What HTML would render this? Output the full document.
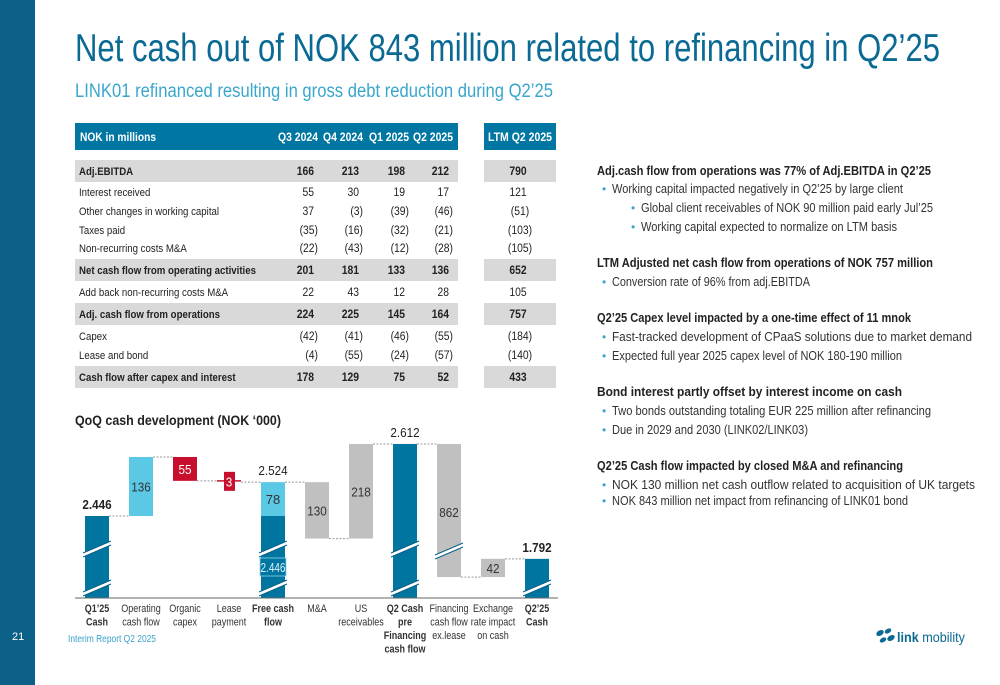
<!DOCTYPE html>
<html><head><meta charset="utf-8"><style>
html,body{margin:0;padding:0;background:#fff;}
svg{display:block;font-family:"Liberation Sans",Arial,sans-serif;}
</style></head><body>
<svg id="s" width="1000" height="685" viewBox="0 0 1000 685">
<rect x="0" y="0" width="35" height="685" fill="#0a6087"/>
<text x="12" y="640" font-size="11" fill="#fff">21</text>
<text x="75" y="61" font-size="39" fill="#0a6a93" textLength="865" lengthAdjust="spacingAndGlyphs">Net cash out of NOK 843 million related to refinancing in Q2’25</text>
<text x="75" y="97" font-size="19" fill="#3aa6cc" textLength="478" lengthAdjust="spacingAndGlyphs">LINK01 refinanced resulting in gross debt reduction during Q2’25</text>
<g id="table"></g>
<g id="notes"></g>
<text x="75" y="425" font-size="14" font-weight="bold" fill="#222" textLength="206" lengthAdjust="spacingAndGlyphs">QoQ cash development (NOK ‘000)</text>
<g id="chart"></g>
<text x="68" y="642" font-size="10.5" fill="#3a9fca" textLength="88" lengthAdjust="spacingAndGlyphs">Interim Report Q2 2025</text>
<g>
<ellipse cx="880" cy="633" rx="4" ry="2.6" fill="#0a6a93" transform="rotate(-30 880 633)"/>
<ellipse cx="888" cy="631" rx="3.5" ry="2.2" fill="#0a6a93" transform="rotate(-30 888 631)"/>
<ellipse cx="883" cy="640" rx="3.5" ry="2.2" fill="#0a6a93" transform="rotate(-30 883 640)"/>
<ellipse cx="891" cy="638" rx="4" ry="2.6" fill="#0a6a93" transform="rotate(-30 891 638)"/>
<text x="897" y="642" font-size="14" fill="#0a6a93" textLength="68" lengthAdjust="spacingAndGlyphs"><tspan font-weight="bold">link</tspan> mobility</text>
</g>
</svg>
<script>
const NS="http://www.w3.org/2000/svg";
function mk(parent,tag,attrs,txt){const e=document.createElementNS(NS,tag);for(const k in attrs)e.setAttribute(k,attrs[k]);if(txt!==undefined)e.textContent=txt;parent.appendChild(e);return e;}
function sx(x,s){return `translate(${x},0) scale(${s},1) translate(${-x},0)`;}

/* ---------- table ---------- */
const colHeaders=["Q3 2024","Q4 2024","Q1 2025","Q2 2025"];
const rowLabels=["Adj.EBITDA","Interest received","Other changes in working capital","Taxes paid","Non-recurring costs M&A","Net cash flow from operating activities","Add back non-recurring costs M&A","Adj. cash flow from operations","Capex","Lease and bond","Cash flow after capex and interest"];
const rowValues=[["166","213","198","212"],["55","30","19","17"],["37","(3)","(39)","(46)"],["(35)","(16)","(32)","(21)"],["(22)","(43)","(12)","(28)"],["201","181","133","136"],["22","43","12","28"],["224","225","145","164"],["(42)","(41)","(46)","(55)"],["(4)","(55)","(24)","(57)"],["178","129","75","52"]];
const ltmValues=["790","121","(51)","(103)","(105)","652","105","757","(184)","(140)","433"];
const boldRows=[true,false,false,false,false,true,false,true,false,false,true];
const rowY=[171,192,211,230,248,270,292,314,336,355,377];
const colRight=[318,363,409,453];
const T=document.getElementById('table');
let h=mk(T,'rect',{x:75,y:123,width:383,height:27,fill:'#0077a3'});


mk(T,'rect',{x:484,y:123,width:72,height:27,fill:'#0077a3'});
mk(T,'text',{x:80,y:141,'font-size':12,'font-weight':'bold',fill:'#fff',textLength:76,lengthAdjust:'spacingAndGlyphs'},'NOK in millions');
colHeaders.forEach((c,i)=>{const t=mk(T,'text',{x:colRight[i],y:141,'text-anchor':'end','font-size':11.5,'font-weight':'bold',fill:'#fff',textLength:40,lengthAdjust:'spacingAndGlyphs'},c);

});
mk(T,'text',{x:520,y:141,'text-anchor':'middle','font-size':11.5,'font-weight':'bold',fill:'#fff',textLength:64,lengthAdjust:'spacingAndGlyphs'},'LTM Q2 2025');
rowLabels.forEach((lab,r)=>{
  const y=rowY[r];const b=boldRows[r];
  if(b){mk(T,'rect',{x:75,y:y-11,width:383,height:22,fill:'#d9d9d9'});mk(T,'rect',{x:484,y:y-11,width:72,height:22,fill:'#d9d9d9'});}
  const fw=b?'bold':'normal';
  const lt=mk(T,'text',{x:79,y:y+4,'font-size':11.5,'font-weight':fw,fill:'#222',transform:sx(79,0.84)},lab);
  
  
  rowValues[r].forEach((v,i)=>{const paren=v.indexOf('(')>=0;const xx=colRight[i]-(paren?0:4);
    mk(T,'text',{x:xx,y:y+4,'text-anchor':'end','font-size':11.5,'font-weight':fw,fill:'#222',transform:sx(xx,0.9)},v);});
  const lv=ltmValues[r];const lx=lv.indexOf('(')>=0?520:518;
  mk(T,'text',{x:lx,y:y+4,'text-anchor':'middle','font-size':11.5,'font-weight':fw,fill:'#222',transform:sx(lx,0.9)},lv);
});

/* ---------- commentary ---------- */
const notes=[
 ['h',175,"Adj.cash flow from operations was 77% of Adj.EBITDA in Q2’25",334],
 ['b',193,"Working capital impacted negatively in Q2’25 by large client",291],
 ['s',212,"Global client receivables of NOK 90 million paid early Jul’25",292],
 ['s',231,"Working capital expected to normalize on LTM basis",256],
 ['h',267,"LTM Adjusted net cash flow from operations of NOK 757 million",336],
 ['b',286,"Conversion rate of 96% from adj.EBITDA",198],
 ['h',322,"Q2’25 Capex level impacted by a one-time effect of 11 mnok",314],
 ['b',341,"Fast-tracked development of CPaaS solutions due to market demand",360],
 ['b',360,"Expected full year 2025 capex level of NOK 180-190 million",290],
 ['h',396,"Bond interest partly offset by interest income on cash",305],
 ['b',415,"Two bonds outstanding totaling EUR 225 million after refinancing",319],
 ['b',434,"Due in 2029 and 2030 (LINK02/LINK03)",196],
 ['h',470,"Q2’25 Cash flow impacted by closed M&A and refinancing",306],
 ['b',489,"NOK 130 million net cash outflow related to acquisition of UK targets",363],
 ['b',505,"NOK 843 million net impact from refinancing of LINK01 bond",296]];
const N=document.getElementById('notes');
notes.forEach(n=>{
  const [k,y,txt,w]=n;
  if(k==='h'){const t=mk(N,'text',{x:597,y:y,'font-size':12.5,'font-weight':'bold',fill:'#222',textLength:w,lengthAdjust:'spacingAndGlyphs'},txt);
    
    }
  else{const bx=k==='b'?602:631,tx=k==='b'?612:641;
    mk(N,'text',{x:bx,y:y,'font-size':12,fill:'#3aa6cc'},'•');
    const t=mk(N,'text',{x:tx,y:y,'font-size':12.5,fill:'#333',textLength:w,lengthAdjust:'spacingAndGlyphs'},txt);
    
    }
});

/* ---------- waterfall chart ---------- */
const categories=[["Q1’25","Cash"],["Operating","cash flow"],["Organic","capex"],["Lease","payment"],["Free cash","flow"],["M&A"],["US","receivables"],["Q2 Cash","pre","Financing","cash flow"],["Financing","cash flow","ex.lease"],["Exchange","rate impact","on cash"],["Q2’25","Cash"]];
const types=["total","delta","delta","delta","total","delta","delta","total","delta","delta","total"];
const deltas=[2446,136,-55,-3,0,-130,218,0,-862,42,0];
const valueLabels=["2.446","136","55","3","2.524","130","218","2.612","862","42","1.792"];
const boldCat=[true,false,false,false,true,false,false,true,false,false,true];
const C=document.getElementById('chart');
const base=598, unit=0.434, ref=2446, brk=2200, gap=241;
function yv(v){let y=516-(v-ref)*unit;if(v<brk)y-=gap;return y;}
function cx(i){return 97+44*i;}
const bw=24;
function breakMarks(x,y){mk(C,'polygon',{points:`${x-14},${y+4} ${x+14},${y-8} ${x+14},${y-4} ${x-14},${y+8}`,fill:'#fff'});
  mk(C,'line',{x1:x-14,y1:y+4,x2:x+14,y2:y-8,stroke:'#0a6087','stroke-width':1});mk(C,'line',{x1:x-14,y1:y+8,x2:x+14,y2:y-4,stroke:'#0a6087','stroke-width':1});}
let running=0;const tops=[];
categories.forEach((cat,i)=>{
  const x=cx(i);let r;
  if(types[i]==='total'){
    if(i===0)running=deltas[0];
    const yt=yv(running);
    if(i===4){
      r=mk(C,'rect',{x:x-bw/2,y:yv(ref),width:bw,height:base-yv(ref),fill:'#0075a0'});
      mk(C,'rect',{x:x-bw/2,y:yt,width:bw,height:yv(ref)-yt,fill:'#5bc8e6'});
      mk(C,'text',{x:x,y:(yt+yv(ref))/2+5,'text-anchor':'middle','font-size':13,fill:'#333'},String(running-ref));
      breakMarks(x,549);breakMarks(x,588);
      mk(C,'rect',{x:x-13,y:558,width:26,height:18,fill:'#0075a0',stroke:'#8fd6ee','stroke-width':0.8});
      mk(C,'text',{x:x,y:572,'text-anchor':'middle','font-size':13,fill:'#dff4fb',textLength:25,lengthAdjust:'spacingAndGlyphs'},valueLabels[0]);
    }else{
      r=mk(C,'rect',{x:x-bw/2,y:yt,width:bw,height:base-yt,fill:'#0075a0'});
      if(i===0||i===7){breakMarks(x,549);breakMarks(x,588);}
      if(i===10){breakMarks(x,588);}
    }
    mk(C,'text',{x:x,y:yt-7,'text-anchor':'middle','font-size':13,'font-weight':(i===0||i===10)?'bold':'normal',fill:'#222',transform:sx(x,0.9)},valueLabels[i]);
    tops.push(yt);
  }else{
    const a=running,b=running+deltas[i];running=b;
    const y1=yv(Math.max(a,b)),y2=yv(Math.min(a,b));
    const col=(i===2||i===3)?'#c8102e':(i===1?'#5bc8e6':'#c0c0c0');
    if(i===3){r=mk(C,'rect',{x:x-5,y:y1-9,width:11,height:19,fill:col});mk(C,'line',{x1:x-12,y1:y1,x2:x+12,y2:y1,stroke:col,'stroke-width':1.5});}
    else r=mk(C,'rect',{x:x-bw/2,y:y1,width:bw,height:y2-y1,fill:col});
    let ly=(y1+y2)/2+5;
    if(i===8){breakMarks(x,551);ly=y1+73;}
    mk(C,'text',{x:x,y:ly,'text-anchor':'middle','font-size':13,fill:(i===2||i===3)?'#fff':'#333',transform:sx(x,0.9)},valueLabels[i]);
    tops.push(yv(b));
  }
  
  
  cat.forEach((l,k)=>{const t=mk(C,'text',{x:x,y:612+k*13.5,'text-anchor':'middle','font-size':11,'font-weight':boldCat[i]?'bold':'normal',fill:'#333',transform:sx(x,0.82)},l);
    
    });
});
for(let i=0;i<categories.length-1;i++){
  const y=tops[i];
  const ln=mk(C,'line',{x1:cx(i)+bw/2,y1:y,x2:cx(i+1)-bw/2,y2:y,stroke:'#999','stroke-width':1,'stroke-dasharray':'2,1.5'});
  
  
}
const ax=mk(C,'line',{x1:75,y1:base,x2:558,y2:base,stroke:'#666','stroke-width':1});


</script>
</body></html>
